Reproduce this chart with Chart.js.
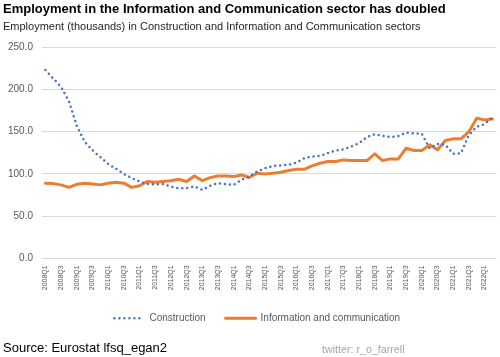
<!DOCTYPE html>
<html>
<head>
<meta charset="utf-8">
<script src="https://cdn.jsdelivr.net/npm/chart.js@4/dist/chart.umd.min.js"></script>
<style>
  html, body { margin: 0; padding: 0; background: #fff; }
  #wrap { position: relative; width: 500px; height: 357px; overflow: hidden; font-family: "Liberation Sans", Arial, sans-serif; }
  #c { position: absolute; left: 0; top: 0; }
  .t { position: absolute; white-space: nowrap; line-height: 1; }
  #title { left: 3px; top: 2px; font-size: 13px; font-weight: bold; color: #000; }
  #sub { left: 3px; top: 21px; font-size: 11px; color: #262626; }
  #src { left: 3px; top: 341px; font-size: 13px; color: #000; }
  #tw { left: 322px; top: 344px; font-size: 10.7px; color: #A6A6A6; }
</style>
</head>
<body>
<div id="wrap">
  <canvas id="c" width="500" height="357"></canvas>
  <div class="t" id="title">Employment in the Information and Communication sector has doubled</div>
  <div class="t" id="sub">Employment (thousands) in Construction and Information and Communication sectors</div>
  <div class="t" id="src">Source: Eurostat lfsq_egan2</div>
  <div class="t" id="tw">twitter: r_o_farrell</div>
</div>
<script>
// Quarters 2008Q1 .. 2022Q2
const quarters = [];
for (let y = 2008; y <= 2022; y++) {
  for (let q = 1; q <= 4; q++) {
    if (y === 2022 && q > 2) break;
    quarters.push(y + 'Q' + q);
  }
}

const construction = [
  223, 213, 203, 186, 157, 138, 128, 120, 112, 106,
  100, 95, 91, 88, 87.5, 88, 85, 83, 83, 85,
  81, 86, 89, 88, 87, 93, 97, 102.8, 106.7, 109.5,
  110, 110.7, 113.4, 118.6, 120.5, 121.3, 124.5, 127.7, 129, 132.4,
  136.4, 143.5, 147, 145, 143.5, 145, 149, 148, 147.4, 130.4,
  135.6, 134.4, 123.7, 124.5, 146, 156, 159, 167
];

const infoComm = [
  89, 88.5, 87, 84, 87.7, 89, 88, 87, 89, 90,
  89, 84, 86, 91, 90, 91, 92, 93.7, 91, 97.6,
  92, 95.6, 97.6, 97.6, 96.8, 98.8, 95.7, 100.8, 100, 100.8,
  102, 104, 105.5, 105.5, 109.5, 112.6, 114.6, 114.6, 116.6, 115.8,
  115.8, 115.8, 123.7, 115.8, 117.8, 117.8, 130.4, 127.7, 127.7, 134.4,
  128.5, 139.5, 141.5, 141.5, 150, 166, 164, 165
];

const yTicks = [0, 50, 100, 150, 200, 250];

const legendShift = {
  id: 'legendShift',
  afterLayout(chart) {
    if (chart.legend) { chart.legend.left += 8; chart.legend.right += 8; }
  }
};

new Chart(document.getElementById('c'), {
  type: 'line',
  data: {
    labels: quarters,
    datasets: [
      {
        label: 'Construction',
        data: construction,
        borderColor: '#4472C4',
        backgroundColor: '#4472C4',
        borderWidth: 2.5,
        borderDash: [0, 5],
        borderCapStyle: 'round',
        pointRadius: 0,
        pointStyle: 'line',
        tension: 0,
        fill: false
      },
      {
        label: 'Information and communication',
        data: infoComm,
        borderColor: '#ED7D31',
        backgroundColor: '#ED7D31',
        borderWidth: 3,
        borderJoinStyle: 'round',
        borderCapStyle: 'round',
        pointRadius: 0,
        pointStyle: 'line',
        tension: 0,
        fill: false
      }
    ]
  },
  plugins: [legendShift],
  options: {
    responsive: false,
    animation: false,
    layout: { padding: { left: 0, right: 1.5, top: 47.3, bottom: 23.8 } },
    plugins: {
      title: { display: false },
      tooltip: { enabled: false },
      legend: {
        display: true,
        position: 'bottom',
        labels: {
          usePointStyle: true,
          pointStyleWidth: 30,
          padding: 20,
          color: '#595959',
          font: { family: '"Liberation Sans", Arial, sans-serif', size: 10 },
          generateLabels(chart) {
            return chart.data.datasets.map((ds, i) => ({
              text: ds.label,
              datasetIndex: i,
              pointStyle: 'line',
              strokeStyle: ds.borderColor,
              fillStyle: ds.borderColor,
              fontColor: '#595959',
              lineWidth: ds.borderWidth,
              lineDash: ds.borderDash || [],
              lineCap: ds.borderCapStyle || 'butt',
              hidden: false
            }));
          }
        }
      }
    },
    scales: {
      x: {
        type: 'category',
        offset: true,
        grid: { display: false, drawTicks: false },
        border: { display: false },
        afterFit: s => { s.height = 34.9; },
        ticks: {
          autoSkip: false,
          minRotation: 90,
          maxRotation: 90,
          padding: 7,
          color: '#595959',
          font: { family: '"Liberation Sans", Arial, sans-serif', size: 7 },
          callback: function (v, i) { return i % 2 === 0 ? this.getLabelForValue(v) : null; }
        }
      },
      y: {
        min: yTicks[0],
        max: yTicks[yTicks.length - 1],
        afterFit: s => { s.width = 41.5; },
        afterBuildTicks: s => { s.ticks = yTicks.map(v => ({ value: v })); },
        grid: { color: '#D9D9D9', lineWidth: 1, drawTicks: false },
        border: { display: false },
        ticks: {
          padding: 8.5,
          color: '#595959',
          font: { family: '"Liberation Sans", Arial, sans-serif', size: 10 },
          callback: v => Number(v).toFixed(1)
        }
      }
    }
  }
});
</script>
</body>
</html>
